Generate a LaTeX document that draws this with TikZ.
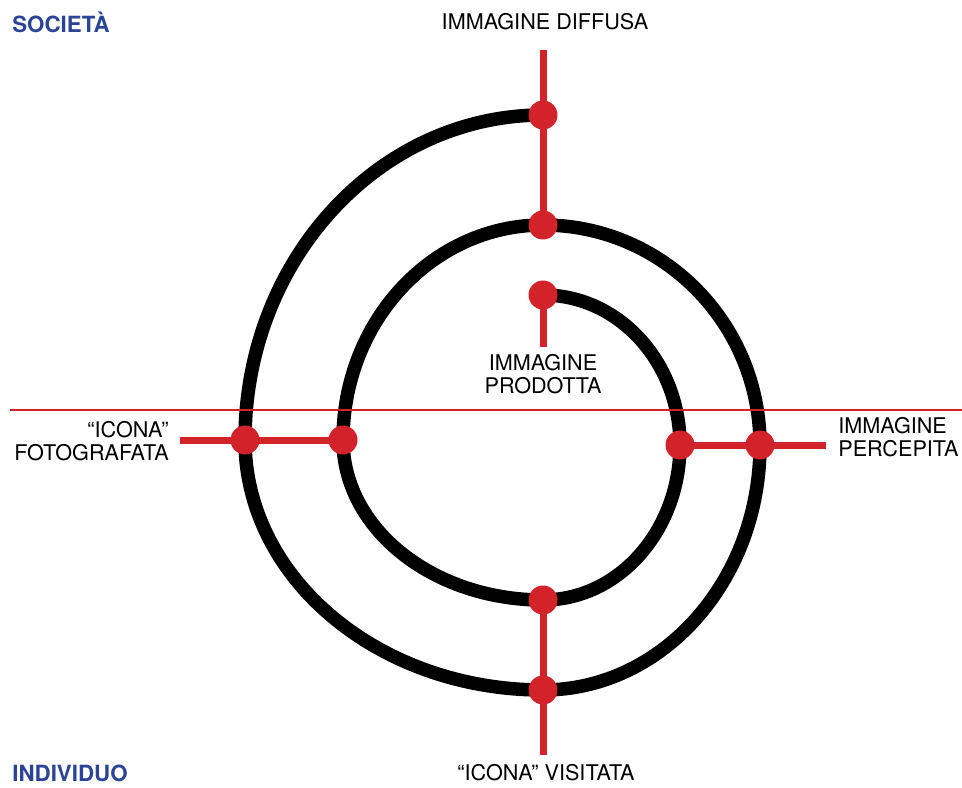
\documentclass[tikz,border=0pt]{standalone}
\usepackage{fontspec}
\setmainfont{TeX Gyre Heros}
\definecolor{spiralred}{RGB}{210,35,42}
\definecolor{sideblue}{RGB}{43,68,150}

\begin{document}
\begin{tikzpicture}[x=0.02cm,y=-0.02cm,
        spiral/.style={line width=0.27cm},
        stem/.style={spiralred,line width=0.14cm},
        axis/.style={spiralred,line width=0.04cm},
        dot/.style={circle,fill=spiralred,inner sep=0pt,minimum size=0.58cm},
        lbl/.style={font=\fontsize{12.3}{13}\selectfont,inner sep=0pt},
        side/.style={font=\bfseries\fontsize{12.7}{13}\selectfont,text=sideblue,inner sep=0pt,anchor=west}]
    \useasboundingbox (0,0) rectangle (962,787);
    % points on the spiral
    \coordinate (prod) at (543,295);
    \coordinate (diff1) at (543,225);
    \coordinate (diff2) at (543,115);
    \coordinate (foto1) at (343,440);
    \coordinate (foto2) at (245,440);
    \coordinate (perc1) at (680,445);
    \coordinate (perc2) at (760,445);
    \coordinate (visi1) at (543,600);
    \coordinate (visi2) at (543,690);
    % free ends of the stems
    \coordinate (diffend) at (543,50);
    \coordinate (prodend) at (543,347);
    \coordinate (fotoend) at (180,440);
    \coordinate (percend) at (826,445);
    \coordinate (visiend) at (543,755);
    \coordinate (axisl) at (10,410);
    \coordinate (axisr) at (962,410);
    % spiral
    \draw[spiral] (prod)
        arc[start angle=270,end angle=360,x radius=137,y radius=150]
        arc[start angle=0,end angle=90,x radius=137,y radius=155]
        arc[start angle=90,end angle=180,x radius=200,y radius=160]
        arc[start angle=180,end angle=270,x radius=200,y radius=215]
        arc[start angle=270,end angle=360,x radius=217,y radius=220]
        arc[start angle=0,end angle=90,x radius=217,y radius=245]
        arc[start angle=90,end angle=180,x radius=298,y radius=250]
        arc[start angle=180,end angle=270,x radius=298,y radius=325];
    % stems
    \draw[axis] (axisl) -- (axisr);
    \draw[stem] (diffend) -- (diff2) -- (diff1);
    \draw[stem] (prod) -- (prodend);
    \draw[stem] (fotoend) -- (foto2) -- (foto1);
    \draw[stem] (perc1) -- (perc2) -- (percend);
    \draw[stem] (visi1) -- (visi2) -- (visiend);
    \foreach \p in {prod,diff1,diff2,foto1,foto2,perc1,perc2,visi1,visi2}
        \node[dot] at (\p) {};
    % labels
    \node[lbl] (diffusa) at (545,22) {IMMAGINE DIFFUSA};
    \node[lbl,align=center] (prodotta) at (543,374) {IMMAGINE\\PRODOTTA};
    \node[lbl,align=right,anchor=east] (fotografata) at (169,441) {“ICONA”\\FOTOGRAFATA};
    \node[lbl,align=left,anchor=west] (percepita) at (838,437) {IMMAGINE\\PERCEPITA};
    \node[lbl] (visitata) at (546,773) {“ICONA” VISITATA};
    \node[side] (societa) at (12,22) {SOCIETÀ};
    \node[side] (individuo) at (12,773) {INDIVIDUO};
\end{tikzpicture}
\end{document}
